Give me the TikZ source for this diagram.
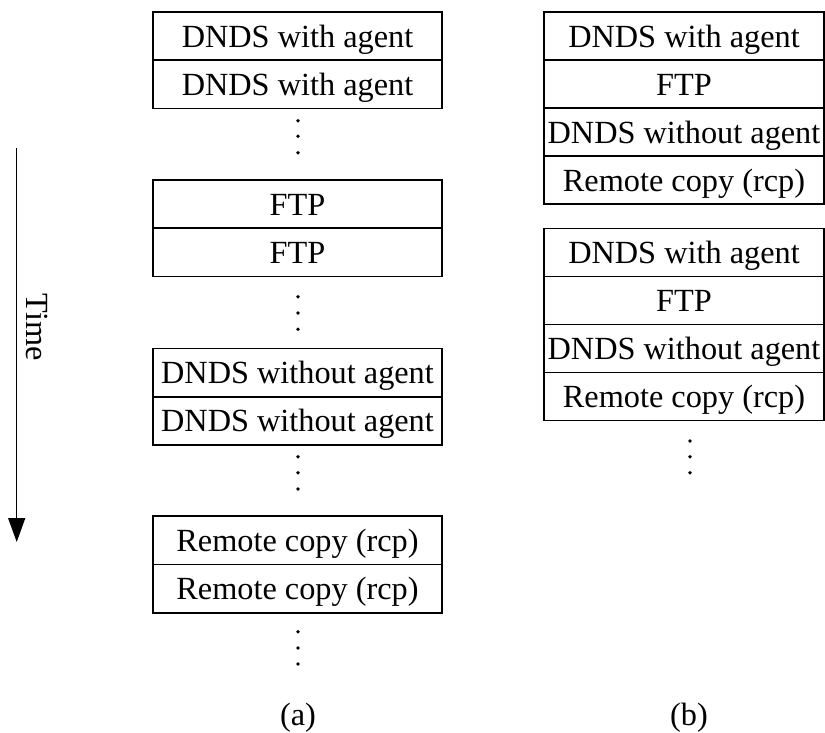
\documentclass[tikz,border=0pt]{standalone}
\usepackage{fontspec}
\setmainfont{Liberation Serif}
\usetikzlibrary{arrows.meta}
\begin{document}
\begin{tikzpicture}[x=1pt,y=-1pt,
  every node/.style={font=\fontsize{32.3}{38}\selectfont},
  rowa/.style={draw,line width=1.6pt,minimum width=289pt,minimum height=48.25pt,
    inner sep=0pt,text height=26pt,text depth=4pt},
  rowb/.style={draw,line width=1.6pt,minimum width=280pt,minimum height=48pt,
    inner sep=0pt,text height=26pt,text depth=4pt},
  dot/.style={fill=black},
  label/.style={inner sep=0pt}]
\useasboundingbox (0,0) rectangle (825,732);

% time axis
\coordinate (tstart) at (16.7,148);
\coordinate (tend) at (16.7,542);
\draw[line width=1.5pt,-{Triangle[length=24pt,width=17pt]}] (tstart) -- (tend);
\node[label,rotate=-90] (time) at (37,327) {Time};

% column (a): repeated runs of each method
\node[rowa] (a1) at (297.5,36.1)  {DNDS with agent};
\node[rowa] (a2) at (297.5,84.4)  {DNDS with agent};
\node[rowa] (a3) at (297.5,204.1) {FTP};
\node[rowa] (a4) at (297.5,252.4) {FTP};
\node[rowa] (a5) at (297.5,372.6) {DNDS without agent};
\node[rowa] (a6) at (297.5,420.9) {DNDS without agent};
\node[rowa] (a7) at (297.5,540.4) {Remote copy (rcp)};
\node[rowa] (a8) at (297.5,588.6) {Remote copy (rcp)};

\foreach \y in {120.7,136.3,152.7, 296.7,313,329.3, 456.7,472.7,489, 631.7,648,664}
  \fill[dot] (298,\y) circle (1.9pt);

% column (b): methods interleaved
\node[rowb] (b1) at (684,36.2)  {DNDS with agent};
\node[rowb] (b2) at (684,84.3)  {FTP};
\node[rowb] (b3) at (684,132.2) {DNDS without agent};
\node[rowb] (b4) at (684,180.1) {Remote copy (rcp)};
\node[rowb] (b5) at (684,252.4) {DNDS with agent};
\node[rowb] (b6) at (684,300.5) {FTP};
\node[rowb] (b7) at (684,348.4) {DNDS without agent};
\node[rowb] (b8) at (684,396.4) {Remote copy (rcp)};

\foreach \y in {441,456.7,472.7}
  \fill[dot] (690,\y) circle (1.9pt);

% captions
\node[label] (capa) at (298,718) {(a)};
\node[label] (capb) at (689,718) {(b)};
\end{tikzpicture}
\end{document}
